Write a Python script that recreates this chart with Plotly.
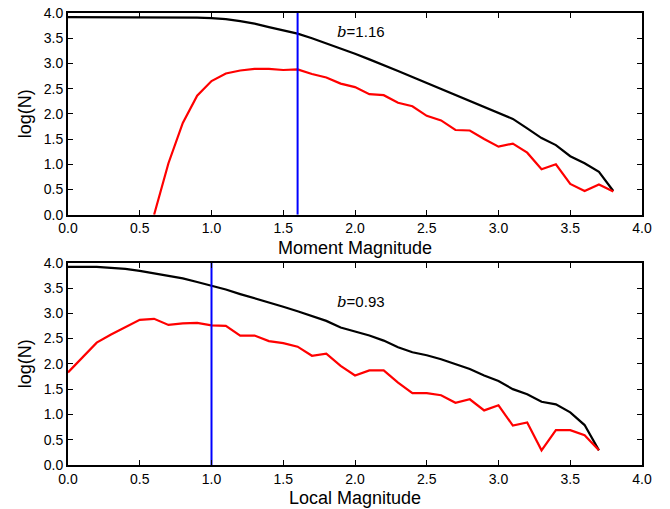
import plotly.graph_objects as go

# Moment magnitude panel
mw_cum_x = [0.0, 0.1, 0.2, 0.3, 0.4, 0.5, 0.6, 0.7, 0.8, 0.9, 1.0, 1.1, 1.2, 1.3, 1.4, 1.5, 1.6, 1.7, 1.8, 1.9,
            2.0, 2.1, 2.2, 2.3, 2.4, 2.5, 2.6, 2.7, 2.8, 2.9, 3.0, 3.1, 3.2, 3.3, 3.4, 3.5, 3.6, 3.7, 3.8]
mw_cum_y = [3.92, 3.92, 3.92, 3.92, 3.92, 3.92, 3.92, 3.92, 3.92, 3.91, 3.90, 3.88, 3.84, 3.79, 3.72, 3.66, 3.59, 3.50, 3.40, 3.29,
            3.19, 3.08, 2.97, 2.85, 2.73, 2.61, 2.49, 2.37, 2.26, 2.14, 2.02, 1.90, 1.71, 1.52, 1.38, 1.16, 1.02, 0.85, 0.47]
mw_inc_x = [0.6, 0.7, 0.8, 0.9, 1.0, 1.1, 1.2, 1.3, 1.4, 1.5, 1.6, 1.7, 1.8, 1.9,
            2.0, 2.1, 2.2, 2.3, 2.4, 2.5, 2.6, 2.7, 2.8, 2.9, 3.0, 3.1, 3.2, 3.3, 3.4, 3.5, 3.6, 3.7, 3.8]
mw_inc_y = [0.0, 1.02, 1.82, 2.36, 2.65, 2.80, 2.86, 2.89, 2.89, 2.87, 2.88, 2.79, 2.72, 2.60,
            2.53, 2.39, 2.37, 2.22, 2.15, 1.96, 1.87, 1.68, 1.67, 1.50, 1.35, 1.41, 1.23, 0.90, 1.00, 0.61, 0.47, 0.60, 0.46]
mw_mc = 1.6
mw_b_label = "1.16"

# Local magnitude panel
ml_cum_x = [0.0, 0.1, 0.2, 0.3, 0.4, 0.5, 0.6, 0.7, 0.8, 0.9, 1.0, 1.1, 1.2, 1.3, 1.4, 1.5, 1.6, 1.7, 1.8, 1.9,
            2.0, 2.1, 2.2, 2.3, 2.4, 2.5, 2.6, 2.7, 2.8, 2.9, 3.0, 3.1, 3.2, 3.3, 3.4, 3.5, 3.6, 3.7]
ml_cum_y = [3.92, 3.92, 3.92, 3.90, 3.88, 3.84, 3.79, 3.74, 3.69, 3.62, 3.55, 3.47, 3.38, 3.30, 3.22, 3.13, 3.04, 2.94, 2.85, 2.72,
            2.64, 2.56, 2.46, 2.33, 2.23, 2.17, 2.09, 1.99, 1.90, 1.77, 1.66, 1.50, 1.40, 1.25, 1.20, 1.04, 0.79, 0.29]
ml_inc_x = [0.0, 0.2, 0.3, 0.4, 0.5, 0.6, 0.7, 0.8, 0.9, 1.0, 1.1, 1.2, 1.3, 1.4, 1.5, 1.6, 1.7, 1.8, 1.9,
            2.0, 2.1, 2.2, 2.3, 2.4, 2.5, 2.6, 2.7, 2.8, 2.9, 3.0, 3.1, 3.2, 3.3, 3.4, 3.5, 3.6, 3.7]
ml_inc_y = [1.83, 2.42, 2.58, 2.72, 2.87, 2.89, 2.77, 2.80, 2.81, 2.76, 2.75, 2.56, 2.56, 2.45, 2.41, 2.34, 2.16, 2.20, 1.96,
            1.77, 1.87, 1.87, 1.63, 1.42, 1.42, 1.38, 1.23, 1.30, 1.08, 1.18, 0.78, 0.84, 0.29, 0.69, 0.69, 0.59, 0.29]
ml_mc = 1.0
ml_b_label = "0.93"

tick_vals_x = [0.0, 0.5, 1.0, 1.5, 2.0, 2.5, 3.0, 3.5, 4.0]
tick_vals_y = [0.0, 0.5, 1.0, 1.5, 2.0, 2.5, 3.0, 3.5, 4.0]

FONT = "Liberation Sans, Arial, sans-serif"

fig = go.Figure()

def add_panel(cx, cy, ix, iy, mc, xa, ya):
    fig.add_trace(go.Scatter(x=cx, y=cy, mode="lines", line=dict(color="black", width=2.2),
                             xaxis=xa, yaxis=ya, showlegend=False))
    fig.add_trace(go.Scatter(x=ix, y=iy, mode="lines", line=dict(color="#ff0000", width=2.2),
                             xaxis=xa, yaxis=ya, showlegend=False))
    fig.add_trace(go.Scatter(x=[mc, mc], y=[0, 4], mode="lines", line=dict(color="#0000ff", width=2),
                             xaxis=xa, yaxis=ya, showlegend=False))

add_panel(mw_cum_x, mw_cum_y, mw_inc_x, mw_inc_y, mw_mc, "x", "y")
add_panel(ml_cum_x, ml_cum_y, ml_inc_x, ml_inc_y, ml_mc, "x2", "y2")

axis_common = dict(
    showline=True, linecolor="black", linewidth=2, mirror="ticks",
    ticks="inside", ticklen=5, tickwidth=1, tickcolor="black",
    showgrid=False, zeroline=False, automargin=False,
    tickfont=dict(family=FONT, size=14, color="black"),
)
title_font = dict(family=FONT, size=18, color="black")

fig.update_layout(
    width=670, height=509,
    margin=dict(l=68, r=28, t=13, b=44),
    plot_bgcolor="white", paper_bgcolor="white",
    xaxis=dict(domain=[0, 1], anchor="y", range=[0, 4], tickvals=tick_vals_x,
               ticktext=[f"{v:.1f}" for v in tick_vals_x], **axis_common),
    yaxis=dict(domain=[0.5538, 1], anchor="x", range=[0, 4], tickvals=tick_vals_y,
               ticktext=[f"{v:.1f}" for v in tick_vals_y], **axis_common),
    xaxis2=dict(domain=[0, 1], anchor="y2", range=[0, 4], tickvals=tick_vals_x,
                ticktext=[f"{v:.1f}" for v in tick_vals_x], **axis_common),
    yaxis2=dict(domain=[0, 0.4475], anchor="x2", range=[0, 4], tickvals=tick_vals_y,
                ticktext=[f"{v:.1f}" for v in tick_vals_y], **axis_common),
)

# axis titles
for xa, ya, label in [("x", "y", "Moment Magnitude"), ("x2", "y2", "Local Magnitude")]:
    fig.add_annotation(x=0.5, y=0, xref=f"{xa} domain", yref=f"{ya} domain", xanchor="center", yanchor="middle",
                       yshift=-33, showarrow=False, text=label, font=title_font)
    fig.add_annotation(x=0, y=0.5, xref=f"{xa} domain", yref=f"{ya} domain", xanchor="center", yanchor="middle",
                       xshift=-43.5, textangle=-90, showarrow=False, text="log(N)", font=title_font)

fig.add_annotation(x=1.86, y=3.62, xref="x", yref="y", xanchor="left", yanchor="middle", showarrow=False,
                   text='<span style="font-family:DejaVu Serif"><i>b</i></span>=' + mw_b_label,
                   font=dict(family=FONT, size=15, color="black"))
fig.add_annotation(x=1.86, y=3.22, xref="x2", yref="y2", xanchor="left", yanchor="middle", showarrow=False,
                   text='<span style="font-family:DejaVu Serif"><i>b</i></span>=' + ml_b_label,
                   font=dict(family=FONT, size=15, color="black"))

fig.write_html("out.html", config={"displayModeBar": False},
               post_script="document.body.style.margin='0';document.body.style.overflow='hidden';")
